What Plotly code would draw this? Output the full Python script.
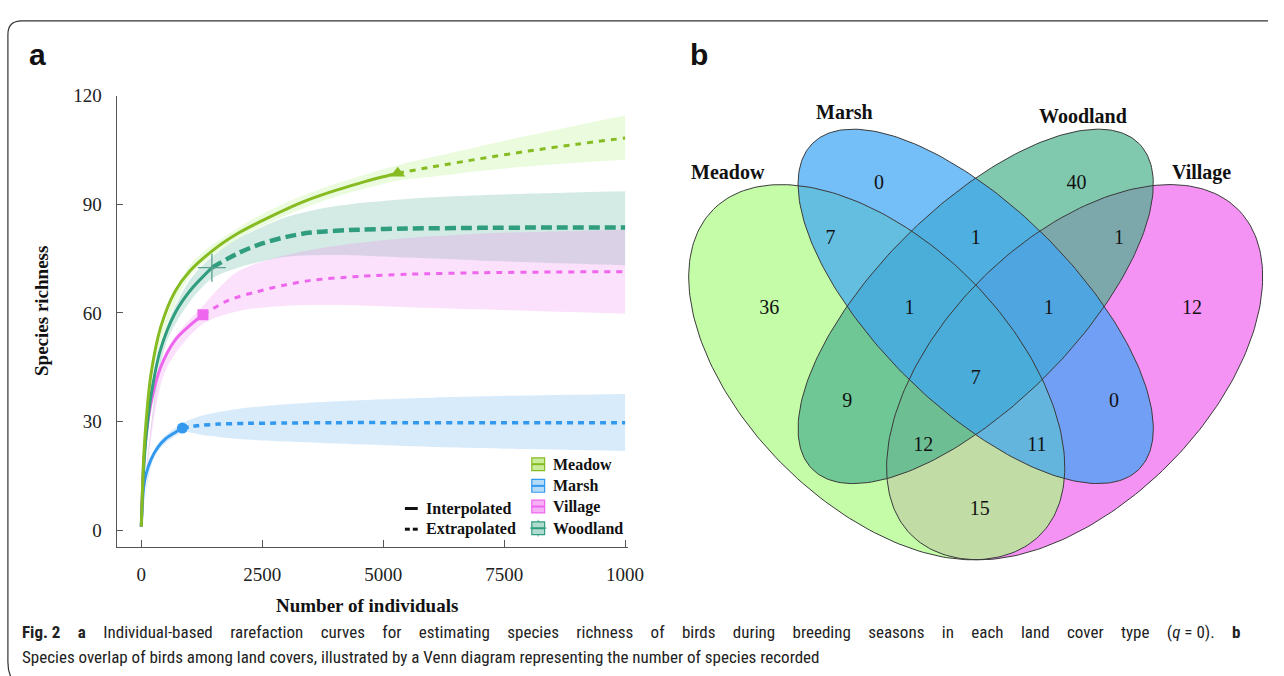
import numpy as np
import plotly.graph_objects as go

# ---------------- Panel a: rarefaction / extrapolation curves ----------------
series_names = ["Meadow", "Marsh", "Village", "Woodland"]

# Meadow
meadow_int_x = [1, 50, 100, 200, 400, 700, 1000, 1500, 2000, 2500, 3000, 3500, 4000, 4500, 5000, 5300]
meadow_int_y = [1, 20, 30, 43, 56, 66, 71.5, 77.5, 82, 85.5, 88.7, 91.5, 93.8, 95.8, 97.6, 98.6]
meadow_ext_x = [5300, 6000, 7000, 8000, 9000, 10000]
meadow_ext_y = [98.6, 100.3, 102.6, 104.7, 106.6, 108.3]
meadow_ci_x = [1, 200, 1000, 2000, 3000, 4000, 5300, 6000, 7000, 8000, 9000, 10000]
meadow_ci_lo = [1, 42, 70, 80.5, 87, 92, 96.5, 97.6, 99.2, 100.5, 101.5, 102.3]
meadow_ci_hi = [1, 44, 73, 83.5, 90.5, 95.6, 100.8, 103.0, 106.0, 109.0, 111.8, 114.5]

# Marsh
marsh_int_x = [1, 20, 50, 100, 200, 350, 500, 700, 850]
marsh_int_y = [1, 7, 12, 15.5, 19.5, 23, 25.2, 27, 28.2]
marsh_ext_x = [850, 1200, 1600, 2200, 3000, 4000, 5500, 7000, 8500, 10000]
marsh_ext_y = [28.2, 28.9, 29.3, 29.5, 29.6, 29.7, 29.7, 29.7, 29.7, 29.7]
marsh_ci_x = [1, 300, 850, 1300, 2000, 3000, 4500, 6000, 8000, 10000]
marsh_ci_lo = [1, 21, 27, 26.2, 25.2, 24.5, 23.7, 23, 22.4, 21.9]
marsh_ci_hi = [1, 23, 29.5, 31.8, 33.5, 34.8, 35.9, 36.6, 37.2, 37.6]

# Village
village_int_x = [1, 50, 100, 200, 400, 700, 1000, 1275]
village_int_y = [1, 18, 26, 35, 45, 52.5, 56.5, 59.5]
village_ext_x = [1275, 1800, 2400, 3000, 3500, 4500, 5500, 7000, 8500, 10000]
village_ext_y = [59.5, 63.5, 65.9, 67.8, 69, 70.1, 70.7, 71.1, 71.3, 71.4]
village_ci_x = [1, 500, 1275, 2000, 3000, 4000, 5500, 7000, 8500, 10000]
village_ci_lo = [1, 44, 57, 60.5, 62, 62.2, 61.6, 61, 60.4, 59.8]
village_ci_hi = [1, 49, 62, 71.5, 76, 78.5, 80.7, 81.9, 82.5, 83]

# Woodland
woodland_int_x = [1, 50, 100, 200, 400, 700, 1000, 1460]
woodland_int_y = [1, 17, 26, 37, 50, 60, 66, 72.5]
woodland_ext_x = [1460, 2000, 2500, 3000, 3500, 4500, 5500, 7000, 8500, 10000]
woodland_ext_y = [72.5, 76.5, 79.2, 81, 82.2, 83.0, 83.3, 83.5, 83.6, 83.6]
woodland_ci_x = [1, 500, 1000, 1460, 2000, 3000, 4000, 5500, 7000, 8500, 10000]
woodland_ci_lo = [1, 51, 63, 69.5, 72.5, 75.5, 76, 75.3, 74.5, 73.8, 73.2]
woodland_ci_hi = [1, 55, 69, 75.5, 80.5, 86.5, 89.5, 91.5, 92.5, 93.1, 93.6]

x_ticks = [0, 2500, 5000, 7500, 10000]
x_tick_text = ["0", "2500", "5000", "7500", "1000"]
y_ticks = [0, 30, 60, 90, 120]

# ---------------- Panel b: Venn counts ----------------
venn_sets = ["Meadow", "Marsh", "Woodland", "Village"]
venn_regions = ["Marsh", "Woodland", "Meadow&Marsh", "Marsh&Woodland", "Woodland&Village",
                "Meadow", "Meadow&Marsh&Woodland", "Marsh&Woodland&Village", "Village",
                "All", "Meadow&Woodland", "Marsh&Village", "Meadow&Woodland&Village",
                "Meadow&Marsh&Village", "Meadow&Village"]
venn_counts = [0, 40, 7, 1, 1, 36, 1, 1, 12, 7, 9, 0, 12, 11, 15]

# ---------------- styling ----------------
W, H = 1284, 676
SERIF = "Liberation Serif, Times New Roman, serif"
SANS = "Liberation Sans, Arial, sans-serif"
CONDENSED = "Roboto Condensed, Roboto, sans-serif"

line_col = {"Meadow": "#86bb22", "Marsh": "#3399ee", "Village": "#ee66ee", "Woodland": "#2f9d7e"}
band_col = {"Meadow": "rgba(150,235,90,0.20)", "Marsh": "rgba(90,170,240,0.24)",
            "Village": "rgba(240,120,240,0.22)", "Woodland": "rgba(60,165,135,0.22)"}
marker_sym = {"Meadow": "triangle-up", "Marsh": "circle", "Village": "square", "Woodland": "cross-thin"}
marker_size = {"Meadow": 13, "Marsh": 11, "Village": 11, "Woodland": 20}
dash_style = {"Meadow": "6px,6px", "Marsh": "6px,5px", "Village": "6px,6px", "Woodland": "11px,5px"}
ext_width = {"Meadow": 3, "Marsh": 3.5, "Village": 3, "Woodland": 4.5}

data = {
    "Meadow": (meadow_int_x, meadow_int_y, meadow_ext_x, meadow_ext_y, meadow_ci_x, meadow_ci_lo, meadow_ci_hi),
    "Marsh": (marsh_int_x, marsh_int_y, marsh_ext_x, marsh_ext_y, marsh_ci_x, marsh_ci_lo, marsh_ci_hi),
    "Village": (village_int_x, village_int_y, village_ext_x, village_ext_y, village_ci_x, village_ci_lo, village_ci_hi),
    "Woodland": (woodland_int_x, woodland_int_y, woodland_ext_x, woodland_ext_y, woodland_ci_x, woodland_ci_lo, woodland_ci_hi),
}

fig = go.Figure()

# confidence bands
for name in ["Meadow", "Woodland", "Village", "Marsh"]:
    ix, iy, ex, ey, cx, lo, hi = data[name]
    fig.add_trace(go.Scatter(x=cx, y=lo, mode="lines", line=dict(width=0, shape="spline", smoothing=0.8),
                             hoverinfo="skip", xaxis="x", yaxis="y"))
    fig.add_trace(go.Scatter(x=cx, y=hi, mode="lines", line=dict(width=0, shape="spline", smoothing=0.8),
                             fill="tonexty", fillcolor=band_col[name], hoverinfo="skip",
                             xaxis="x", yaxis="y"))

# extrapolated (dashed) then interpolated (solid) lines, with observed point markers
for name in ["Marsh", "Village", "Woodland", "Meadow"]:
    ix, iy, ex, ey, cx, lo, hi = data[name]
    fig.add_trace(go.Scatter(x=ex, y=ey, mode="lines",
                             line=dict(color=line_col[name], width=ext_width[name], dash=dash_style[name],
                                       shape="spline", smoothing=0.8),
                             name=name, xaxis="x", yaxis="y"))
    fig.add_trace(go.Scatter(x=ix, y=iy, mode="lines",
                             line=dict(color=line_col[name], width=3, shape="spline", smoothing=0.9),
                             name=name, xaxis="x", yaxis="y"))
    mk = dict(symbol=marker_sym[name], size=marker_size[name], color=line_col[name])
    if name == "Woodland":
        mk["line"] = dict(color="#5a9e8c", width=1.3)
    fig.add_trace(go.Scatter(x=[ix[-1]], y=[iy[-1]], mode="markers", marker=mk,
                             xaxis="x", yaxis="y"))

# ---------------- overlay axis in pixel units (for Venn, legend, text) ----------------
def ellipse_pts(cx, cy, a, b, ang_deg, n=240):
    t = np.linspace(0, 2 * np.pi, n)
    ang = np.deg2rad(ang_deg)
    u = a * np.cos(t)
    v = b * np.sin(t)
    xs = cx + u * np.cos(ang) - v * np.sin(ang)
    ys = cy + u * np.sin(ang) + v * np.cos(ang)
    # unit square -> pixels
    return 654 + 668 * xs, 681.6 - 668 * ys

venn_geom = {
    "Meadow": (0.35, 0.47, 0.35, 0.20, 135),
    "Marsh": (0.50, 0.57, 0.35, 0.15, 135),
    "Woodland": (0.50, 0.57, 0.35, 0.15, 45),
    "Village": (0.65, 0.47, 0.35, 0.20, 45),
}
venn_fill = {
    "Village": "rgba(241,101,241,0.7)",
    "Meadow": "rgba(171,251,131,0.7)",
    "Woodland": "rgba(74,176,139,0.7)",
    "Marsh": "rgba(58,164,246,0.7)",
}
for name in ["Village", "Meadow", "Woodland", "Marsh"]:
    ex_, ey_ = ellipse_pts(*venn_geom[name])
    fig.add_trace(go.Scatter(x=ex_, y=ey_, mode="lines", fill="toself", fillcolor=venn_fill[name],
                             line=dict(width=0), hoverinfo="skip", xaxis="x2", yaxis="y2"))
for name in venn_sets:
    ex_, ey_ = ellipse_pts(*venn_geom[name])
    fig.add_trace(go.Scatter(x=ex_, y=ey_, mode="lines", line=dict(color="#3a3a3a", width=1),
                             hoverinfo="skip", xaxis="x2", yaxis="y2"))

venn_count_pos = [(890, 177), (1090, 177), (841, 232), (988, 232), (1133, 232),
                  (779, 303), (921, 303), (1062, 303), (1207, 303),
                  (988, 375), (858, 398), (1128, 398), (935, 443), (1050, 443), (992, 507)]
venn_label_pos = {"Meadow": (737, 164), "Marsh": (855, 104), "Woodland": (1097, 108), "Village": (1217, 165)}

fig.add_trace(go.Scatter(x=[p[0] for p in venn_count_pos], y=[p[1] for p in venn_count_pos],
                         mode="text", text=[str(c) for c in venn_counts],
                         textfont=dict(family=SERIF, size=20, color="#111"),
                         hoverinfo="skip", xaxis="x2", yaxis="y2"))

annotations = []
for name in venn_sets:
    x, y = venn_label_pos[name]
    annotations.append(dict(x=x, y=y, xref="x2", yref="y2", text=f"<b>{name}</b>", showarrow=False,
                            font=dict(family=SERIF, size=20, color="#111")))

# panel letters
annotations.append(dict(x=38, y=45, xref="x2", yref="y2", text="<b>a</b>", showarrow=False,
                        font=dict(family=SANS, size=30, color="#111")))
annotations.append(dict(x=708, y=45, xref="x2", yref="y2", text="<b>b</b>", showarrow=False,
                        font=dict(family=SANS, size=30, color="#111")))

# axis titles
annotations.append(dict(x=372, y=604, xref="x2", yref="y2", text="<b>Number of individuals</b>",
                        showarrow=False, font=dict(family=SERIF, size=19, color="#111")))
annotations.append(dict(x=42, y=305, xref="x2", yref="y2", text="<b>Species richness</b>", textangle=-90,
                        showarrow=False, font=dict(family=SERIF, size=19, color="#111")))

# legend inside panel a
legend_y = {"Meadow": 461, "Marsh": 483, "Village": 504, "Woodland": 526}
legend_fill = {"Meadow": "#c9ec9a", "Marsh": "#b4dcf8", "Village": "#f6b0f6", "Woodland": "#b0dccf"}
shapes = []
for name in series_names:
    y = legend_y[name]
    shapes.append(dict(type="rect", xref="x2", yref="y2", x0=538.5, x1=551.5, y0=y - 6.5, y1=y + 6.5,
                       fillcolor=legend_fill[name], line=dict(color=line_col[name], width=1.2)))
    shapes.append(dict(type="line", xref="x2", yref="y2", x0=538.5, x1=551.5, y0=y, y1=y,
                       line=dict(color=line_col[name], width=2)))
    annotations.append(dict(x=558, y=y, xref="x2", yref="y2", text=f"<b>{name}</b>", showarrow=False,
                            xanchor="left", font=dict(family=SERIF, size=16, color="#111")))
fig.add_trace(go.Scatter(x=[545] * 4, y=[legend_y[n] for n in series_names], mode="markers",
                         marker=dict(symbol=[marker_sym[n] for n in series_names],
                                     size=[8, 8, 8, 12],
                                     color=[line_col[n] for n in series_names],
                                     line=dict(color=[line_col[n] for n in series_names], width=1.2)),
                         hoverinfo="skip", xaxis="x2", yaxis="y2"))

shapes.append(dict(type="line", xref="x2", yref="y2", x0=410, x1=423, y0=506, y1=506,
                   line=dict(color="#111", width=3)))
shapes.append(dict(type="line", xref="x2", yref="y2", x0=410, x1=415, y0=527, y1=527,
                   line=dict(color="#111", width=3)))
shapes.append(dict(type="line", xref="x2", yref="y2", x0=418, x1=423, y0=527, y1=527,
                   line=dict(color="#111", width=3)))
annotations.append(dict(x=429, y=506, xref="x2", yref="y2", text="<b>Interpolated</b>", showarrow=False,
                        xanchor="left", font=dict(family=SERIF, size=16, color="#111")))
annotations.append(dict(x=429, y=527, xref="x2", yref="y2", text="<b>Extrapolated</b>", showarrow=False,
                        xanchor="left", font=dict(family=SERIF, size=16, color="#111")))

# caption: first line is justified (widened word gaps), second line is set naturally
gap = "\u00a0" * 4 + "\u200a"
caption_words = ["<b>Fig.\u00a02</b>", "<b>a</b>", "Individual-based", "rarefaction", "curves", "for",
                 "estimating", "species", "richness", "of", "birds", "during", "breeding", "seasons", "in",
                 "each", "land", "cover", "type", "(<i>q</i>\u00a0=\u00a00).", "<b>b</b>"]
caption_line1 = gap.join(caption_words)
caption_line2 = ("Species overlap of birds among land covers, illustrated by a Venn diagram representing "
                 "the number of species recorded")
annotations.append(dict(x=20, y=631, xref="x2", yref="y2", xanchor="left", showarrow=False,
                        text=caption_line1, font=dict(family=CONDENSED, size=17, color="#222")))
annotations.append(dict(x=20, y=657, xref="x2", yref="y2", xanchor="left", showarrow=False,
                        text=caption_line2, font=dict(family=CONDENSED, size=17, color="#222")))

# rounded frame
shapes.append(dict(type="path", xref="x2", yref="y2",
                   path="M 1290 11 L 22 11 Q 8 11 8 25 L 8 662 Q 8 676 16 684",
                   line=dict(color="#333", width=1.2)))

fig.update_layout(
    width=W, height=H, margin=dict(l=0, r=0, t=0, b=0),
    paper_bgcolor="white", plot_bgcolor="rgba(0,0,0,0)", showlegend=False,
    xaxis=dict(domain=[118 / W, 636 / W], range=[-511, 10061], tickvals=x_ticks, ticktext=x_tick_text,
               ticks="inside", ticklen=7, tickcolor="#555", showline=True, linecolor="#555", linewidth=1,
               showgrid=False, zeroline=False, ticklabelstandoff=10,
               tickfont=dict(family=SERIF, size=19, color="#222"), anchor="y"),
    yaxis=dict(domain=[1 - 545 / H, 1 - 87 / H], range=[-4.63, 120], tickvals=y_ticks,
               ticks="inside", ticklen=6, tickcolor="#555", showline=True, linecolor="#555", linewidth=1,
               showgrid=False, zeroline=False, ticklabelstandoff=10,
               tickfont=dict(family=SERIF, size=19, color="#222"), anchor="x"),
    xaxis2=dict(domain=[0, 1], range=[0, W], visible=False, anchor="y2", fixedrange=True),
    yaxis2=dict(domain=[0, 1], range=[H, 0], visible=False, anchor="x2", fixedrange=True),
    shapes=shapes, annotations=annotations,
)

fig.write_html("out.html")
